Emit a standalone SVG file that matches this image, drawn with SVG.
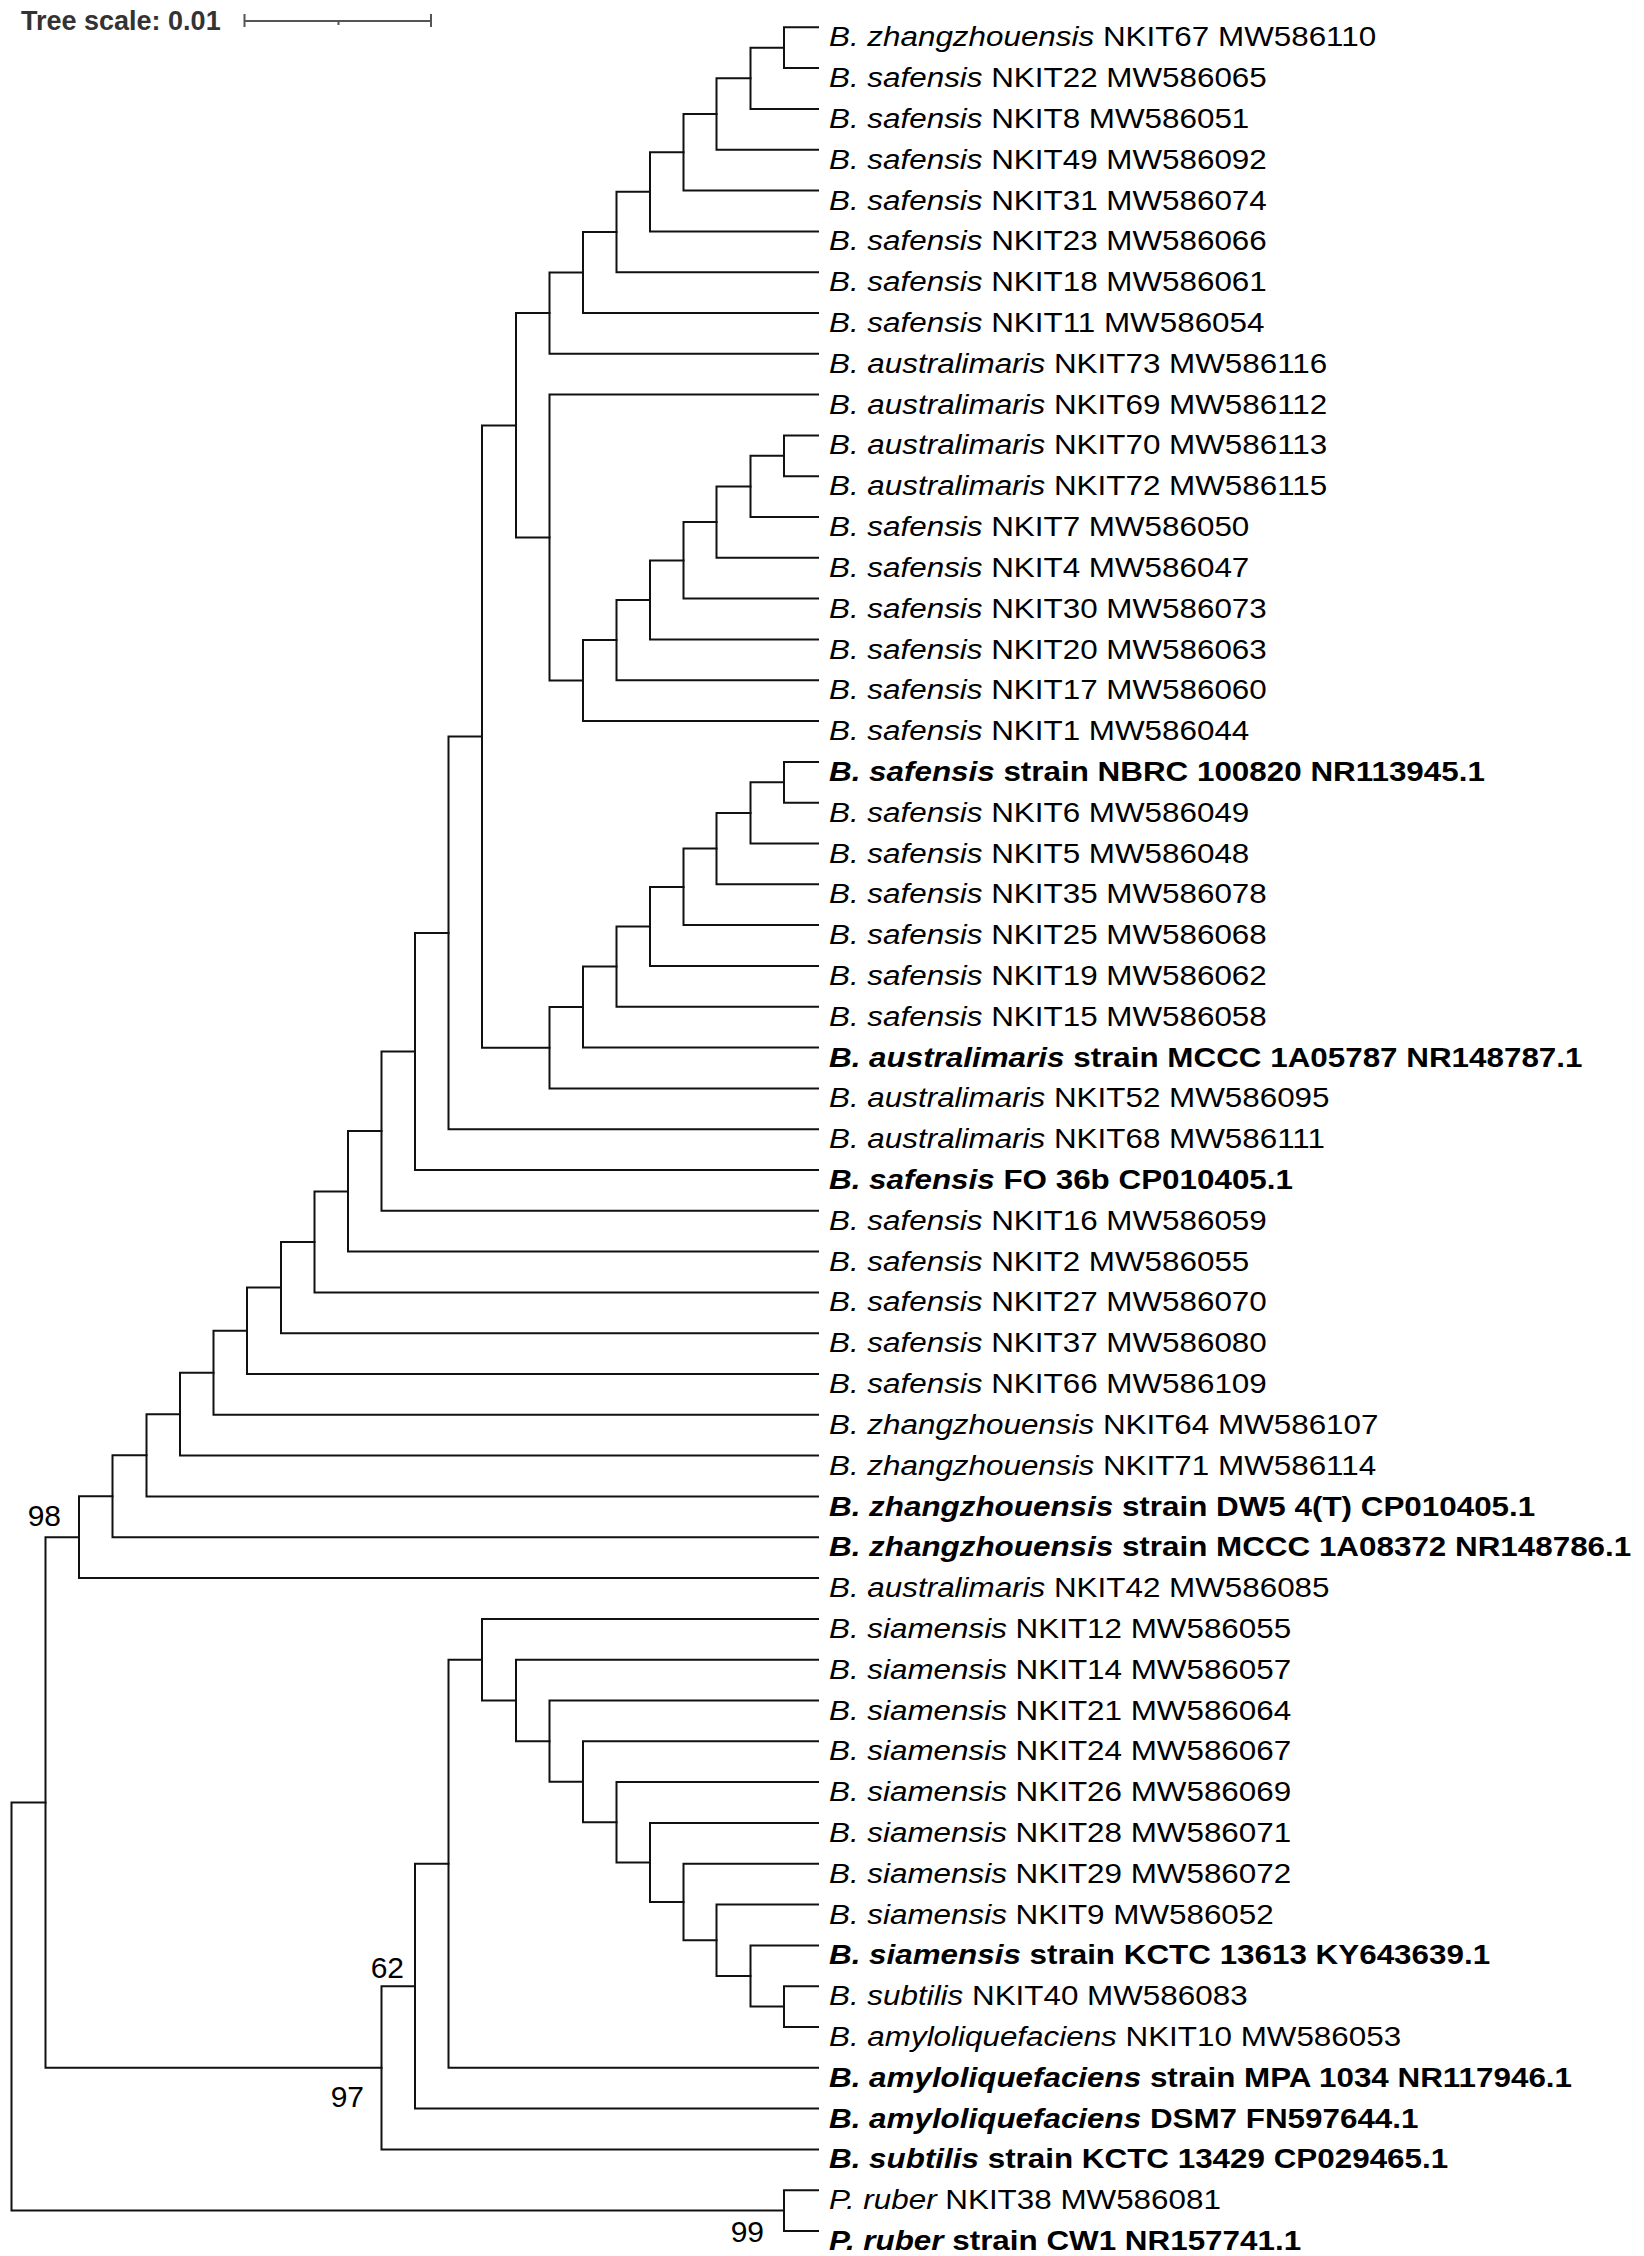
<svg xmlns="http://www.w3.org/2000/svg" width="1644" height="2256" viewBox="0 0 1644 2256">
<style>
.t{font-family:"Liberation Sans",Arial,sans-serif;font-size:28px;fill:#000}
.b{font-weight:bold}
.i{font-style:italic}
.br{fill:none;stroke:#111;stroke-width:2;stroke-linecap:square;stroke-linejoin:miter}
.bs{font-family:"Liberation Sans",Arial,sans-serif;font-size:30px;fill:#000;text-anchor:end}
.sc{fill:none;stroke:#555;stroke-width:2}
</style>
<rect width="1644" height="2256" fill="#fff"/>
<g id="scale">
<text x="21" y="30" font-family="Liberation Sans, Arial, sans-serif" font-size="27" font-weight="bold" fill="#333">Tree scale: 0.01</text>
<path class="sc" d="M244.5,21 H431 M244.5,14 V27 M431,14 V27 M338.5,21 V25"/>
</g>
<g id="connectors">
<path class="br" d="M818,27.3 H784 V68.1 H818"/>
<path class="br" d="M784,47.7 H750.5 V108.9 H818"/>
<path class="br" d="M750.5,78.3 H716.5 V149.7 H818"/>
<path class="br" d="M716.5,114 H683.5 V190.5 H818"/>
<path class="br" d="M683.5,152.3 H650 V231.4 H818"/>
<path class="br" d="M650,191.8 H616.5 V272.2 H818"/>
<path class="br" d="M616.5,232 H583 V313 H818"/>
<path class="br" d="M583,272.5 H549.5 V353.8 H818"/>
<path class="br" d="M818,435.4 H784 V476.2 H818"/>
<path class="br" d="M784,455.8 H750.5 V517 H818"/>
<path class="br" d="M750.5,486.4 H716.5 V557.8 H818"/>
<path class="br" d="M716.5,522.1 H683.5 V598.6 H818"/>
<path class="br" d="M683.5,560.4 H650 V639.5 H818"/>
<path class="br" d="M650,599.9 H616.5 V680.3 H818"/>
<path class="br" d="M616.5,640.1 H583 V721.1 H818"/>
<path class="br" d="M818,394.6 H549.5 V680.6 H583"/>
<path class="br" d="M549.5,313.1 H516 V537.6 H549.5"/>
<path class="br" d="M818,761.9 H784 V802.7 H818"/>
<path class="br" d="M784,782.3 H750.5 V843.5 H818"/>
<path class="br" d="M750.5,812.9 H716.5 V884.3 H818"/>
<path class="br" d="M716.5,848.6 H683.5 V925.1 H818"/>
<path class="br" d="M683.5,886.9 H650 V965.9 H818"/>
<path class="br" d="M650,926.4 H616.5 V1006.7 H818"/>
<path class="br" d="M616.5,966.6 H583 V1047.6 H818"/>
<path class="br" d="M583,1007.1 H549.5 V1088.4 H818"/>
<path class="br" d="M516,425.4 H482 V1047.7 H549.5"/>
<path class="br" d="M482,736.6 H448.5 V1129.2 H818"/>
<path class="br" d="M448.5,932.9 H415 V1170 H818"/>
<path class="br" d="M415,1051.4 H381.5 V1210.8 H818"/>
<path class="br" d="M381.5,1131.1 H348 V1251.6 H818"/>
<path class="br" d="M348,1191.4 H314.5 V1292.4 H818"/>
<path class="br" d="M314.5,1241.9 H281 V1333.2 H818"/>
<path class="br" d="M281,1287.6 H247 V1374 H818"/>
<path class="br" d="M247,1330.8 H213.5 V1414.8 H818"/>
<path class="br" d="M213.5,1372.8 H180 V1455.6 H818"/>
<path class="br" d="M180,1414.2 H146.5 V1496.5 H818"/>
<path class="br" d="M146.5,1455.3 H112.5 V1537.3 H818"/>
<path class="br" d="M112.5,1496.3 H79 V1578.1 H818"/>
<path class="br" d="M818,1986.2 H784 V2027 H818"/>
<path class="br" d="M818,1945.4 H750.5 V2006.6 H784"/>
<path class="br" d="M818,1904.5 H716.5 V1976 H750.5"/>
<path class="br" d="M818,1863.7 H683.5 V1940.3 H716.5"/>
<path class="br" d="M818,1822.9 H650 V1902 H683.5"/>
<path class="br" d="M818,1782.1 H616.5 V1862.5 H650"/>
<path class="br" d="M818,1741.3 H583 V1822.3 H616.5"/>
<path class="br" d="M818,1700.5 H549.5 V1781.8 H583"/>
<path class="br" d="M818,1659.7 H516 V1741.2 H549.5"/>
<path class="br" d="M818,1618.9 H482 V1700.5 H516"/>
<path class="br" d="M482,1659.7 H448.5 V2067.8 H818"/>
<path class="br" d="M448.5,1863.8 H415 V2108.6 H818"/>
<path class="br" d="M415,1986.2 H381.5 V2149.4 H818"/>
<path class="br" d="M79,1537.2 H45.5 V2067.8 H381.5"/>
<path class="br" d="M818,2190.2 H784 V2231 H818"/>
<path class="br" d="M45.5,1802.5 H11.5 V2210.6 H784"/>
</g>
<g id="bootstrap">
<text class="bs" x="61" y="1526">98</text>
<text class="bs" x="404" y="1978">62</text>
<text class="bs" x="364" y="2107">97</text>
<text class="bs" x="764" y="2242">99</text>
</g>
<g id="leaves">
<g id="leaf0"><text class="t" transform="translate(829 46.3) scale(1.121 1)"><tspan class="i">B. zhangzhouensis</tspan> NKIT67 MW586110</text></g>
<g id="leaf1"><text class="t" transform="translate(829 87.1) scale(1.121 1)"><tspan class="i">B. safensis</tspan> NKIT22 MW586065</text></g>
<g id="leaf2"><text class="t" transform="translate(829 127.9) scale(1.121 1)"><tspan class="i">B. safensis</tspan> NKIT8 MW586051</text></g>
<g id="leaf3"><text class="t" transform="translate(829 168.7) scale(1.121 1)"><tspan class="i">B. safensis</tspan> NKIT49 MW586092</text></g>
<g id="leaf4"><text class="t" transform="translate(829 209.5) scale(1.121 1)"><tspan class="i">B. safensis</tspan> NKIT31 MW586074</text></g>
<g id="leaf5"><text class="t" transform="translate(829 250.4) scale(1.121 1)"><tspan class="i">B. safensis</tspan> NKIT23 MW586066</text></g>
<g id="leaf6"><text class="t" transform="translate(829 291.2) scale(1.121 1)"><tspan class="i">B. safensis</tspan> NKIT18 MW586061</text></g>
<g id="leaf7"><text class="t" transform="translate(829 332) scale(1.121 1)"><tspan class="i">B. safensis</tspan> NKIT11 MW586054</text></g>
<g id="leaf8"><text class="t" transform="translate(829 372.8) scale(1.121 1)"><tspan class="i">B. australimaris</tspan> NKIT73 MW586116</text></g>
<g id="leaf9"><text class="t" transform="translate(829 413.6) scale(1.121 1)"><tspan class="i">B. australimaris</tspan> NKIT69 MW586112</text></g>
<g id="leaf10"><text class="t" transform="translate(829 454.4) scale(1.121 1)"><tspan class="i">B. australimaris</tspan> NKIT70 MW586113</text></g>
<g id="leaf11"><text class="t" transform="translate(829 495.2) scale(1.121 1)"><tspan class="i">B. australimaris</tspan> NKIT72 MW586115</text></g>
<g id="leaf12"><text class="t" transform="translate(829 536) scale(1.121 1)"><tspan class="i">B. safensis</tspan> NKIT7 MW586050</text></g>
<g id="leaf13"><text class="t" transform="translate(829 576.8) scale(1.121 1)"><tspan class="i">B. safensis</tspan> NKIT4 MW586047</text></g>
<g id="leaf14"><text class="t" transform="translate(829 617.6) scale(1.121 1)"><tspan class="i">B. safensis</tspan> NKIT30 MW586073</text></g>
<g id="leaf15"><text class="t" transform="translate(829 658.5) scale(1.121 1)"><tspan class="i">B. safensis</tspan> NKIT20 MW586063</text></g>
<g id="leaf16"><text class="t" transform="translate(829 699.3) scale(1.121 1)"><tspan class="i">B. safensis</tspan> NKIT17 MW586060</text></g>
<g id="leaf17"><text class="t" transform="translate(829 740.1) scale(1.121 1)"><tspan class="i">B. safensis</tspan> NKIT1 MW586044</text></g>
<g id="leaf18"><text class="t b" transform="translate(829 780.9) scale(1.121 1)"><tspan class="i">B. safensis</tspan> strain NBRC 100820 NR113945.1</text></g>
<g id="leaf19"><text class="t" transform="translate(829 821.7) scale(1.121 1)"><tspan class="i">B. safensis</tspan> NKIT6 MW586049</text></g>
<g id="leaf20"><text class="t" transform="translate(829 862.5) scale(1.121 1)"><tspan class="i">B. safensis</tspan> NKIT5 MW586048</text></g>
<g id="leaf21"><text class="t" transform="translate(829 903.3) scale(1.121 1)"><tspan class="i">B. safensis</tspan> NKIT35 MW586078</text></g>
<g id="leaf22"><text class="t" transform="translate(829 944.1) scale(1.121 1)"><tspan class="i">B. safensis</tspan> NKIT25 MW586068</text></g>
<g id="leaf23"><text class="t" transform="translate(829 984.9) scale(1.121 1)"><tspan class="i">B. safensis</tspan> NKIT19 MW586062</text></g>
<g id="leaf24"><text class="t" transform="translate(829 1025.7) scale(1.121 1)"><tspan class="i">B. safensis</tspan> NKIT15 MW586058</text></g>
<g id="leaf25"><text class="t b" transform="translate(829 1066.6) scale(1.121 1)"><tspan class="i">B. australimaris</tspan> strain MCCC 1A05787 NR148787.1</text></g>
<g id="leaf26"><text class="t" transform="translate(829 1107.4) scale(1.121 1)"><tspan class="i">B. australimaris</tspan> NKIT52 MW586095</text></g>
<g id="leaf27"><text class="t" transform="translate(829 1148.2) scale(1.121 1)"><tspan class="i">B. australimaris</tspan> NKIT68 MW586111</text></g>
<g id="leaf28"><text class="t b" transform="translate(829 1189) scale(1.121 1)"><tspan class="i">B. safensis</tspan> FO 36b CP010405.1</text></g>
<g id="leaf29"><text class="t" transform="translate(829 1229.8) scale(1.121 1)"><tspan class="i">B. safensis</tspan> NKIT16 MW586059</text></g>
<g id="leaf30"><text class="t" transform="translate(829 1270.6) scale(1.121 1)"><tspan class="i">B. safensis</tspan> NKIT2 MW586055</text></g>
<g id="leaf31"><text class="t" transform="translate(829 1311.4) scale(1.121 1)"><tspan class="i">B. safensis</tspan> NKIT27 MW586070</text></g>
<g id="leaf32"><text class="t" transform="translate(829 1352.2) scale(1.121 1)"><tspan class="i">B. safensis</tspan> NKIT37 MW586080</text></g>
<g id="leaf33"><text class="t" transform="translate(829 1393) scale(1.121 1)"><tspan class="i">B. safensis</tspan> NKIT66 MW586109</text></g>
<g id="leaf34"><text class="t" transform="translate(829 1433.8) scale(1.121 1)"><tspan class="i">B. zhangzhouensis</tspan> NKIT64 MW586107</text></g>
<g id="leaf35"><text class="t" transform="translate(829 1474.7) scale(1.121 1)"><tspan class="i">B. zhangzhouensis</tspan> NKIT71 MW586114</text></g>
<g id="leaf36"><text class="t b" transform="translate(829 1515.5) scale(1.121 1)"><tspan class="i">B. zhangzhouensis</tspan> strain DW5 4(T) CP010405.1</text></g>
<g id="leaf37"><text class="t b" transform="translate(829 1556.3) scale(1.121 1)"><tspan class="i">B. zhangzhouensis</tspan> strain MCCC 1A08372 NR148786.1</text></g>
<g id="leaf38"><text class="t" transform="translate(829 1597.1) scale(1.121 1)"><tspan class="i">B. australimaris</tspan> NKIT42 MW586085</text></g>
<g id="leaf39"><text class="t" transform="translate(829 1637.9) scale(1.121 1)"><tspan class="i">B. siamensis</tspan> NKIT12 MW586055</text></g>
<g id="leaf40"><text class="t" transform="translate(829 1678.7) scale(1.121 1)"><tspan class="i">B. siamensis</tspan> NKIT14 MW586057</text></g>
<g id="leaf41"><text class="t" transform="translate(829 1719.5) scale(1.121 1)"><tspan class="i">B. siamensis</tspan> NKIT21 MW586064</text></g>
<g id="leaf42"><text class="t" transform="translate(829 1760.3) scale(1.121 1)"><tspan class="i">B. siamensis</tspan> NKIT24 MW586067</text></g>
<g id="leaf43"><text class="t" transform="translate(829 1801.1) scale(1.121 1)"><tspan class="i">B. siamensis</tspan> NKIT26 MW586069</text></g>
<g id="leaf44"><text class="t" transform="translate(829 1841.9) scale(1.121 1)"><tspan class="i">B. siamensis</tspan> NKIT28 MW586071</text></g>
<g id="leaf45"><text class="t" transform="translate(829 1882.8) scale(1.121 1)"><tspan class="i">B. siamensis</tspan> NKIT29 MW586072</text></g>
<g id="leaf46"><text class="t" transform="translate(829 1923.6) scale(1.121 1)"><tspan class="i">B. siamensis</tspan> NKIT9 MW586052</text></g>
<g id="leaf47"><text class="t b" transform="translate(829 1964.4) scale(1.121 1)"><tspan class="i">B. siamensis</tspan> strain KCTC 13613 KY643639.1</text></g>
<g id="leaf48"><text class="t" transform="translate(829 2005.2) scale(1.121 1)"><tspan class="i">B. subtilis</tspan> NKIT40 MW586083</text></g>
<g id="leaf49"><text class="t" transform="translate(829 2046) scale(1.121 1)"><tspan class="i">B. amyloliquefaciens</tspan> NKIT10 MW586053</text></g>
<g id="leaf50"><text class="t b" transform="translate(829 2086.8) scale(1.121 1)"><tspan class="i">B. amyloliquefaciens</tspan> strain MPA 1034 NR117946.1</text></g>
<g id="leaf51"><text class="t b" transform="translate(829 2127.6) scale(1.121 1)"><tspan class="i">B. amyloliquefaciens</tspan> DSM7 FN597644.1</text></g>
<g id="leaf52"><text class="t b" transform="translate(829 2168.4) scale(1.121 1)"><tspan class="i">B. subtilis</tspan> strain KCTC 13429 CP029465.1</text></g>
<g id="leaf53"><text class="t" transform="translate(829 2209.2) scale(1.121 1)"><tspan class="i">P. ruber</tspan> NKIT38 MW586081</text></g>
<g id="leaf54"><text class="t b" transform="translate(829 2250) scale(1.121 1)"><tspan class="i">P. ruber</tspan> strain CW1 NR157741.1</text></g>
</g>
</svg>
